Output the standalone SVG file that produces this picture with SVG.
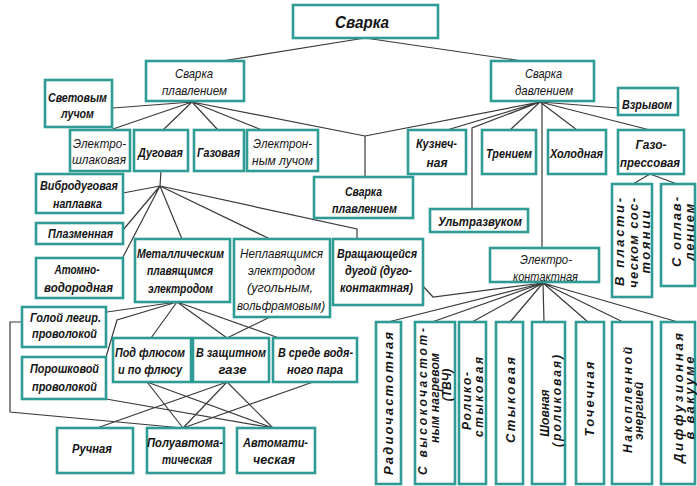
<svg xmlns="http://www.w3.org/2000/svg" width="697" height="486" viewBox="0 0 697 486">
<style>
.box{fill:#fff;stroke:#2e9c94;stroke-width:2.6}
.t{font-family:"Liberation Sans",Arial,sans-serif;font-style:italic;font-weight:bold;font-size:12px;text-anchor:middle;fill:#151515}
.h{font-size:13px}
.n{font-weight:normal}
.v{font-size:13px}
.c{stroke:#3a3a3a;stroke-width:1.2;fill:none}
</style>
<rect width="697" height="486" fill="#fff"/>
<g id="connectors" class="c">
<path d="M365,38L222,61M365,38L522,61"/>
<path d="M192,102L113,108M192,102L110,130M192,102L163,130M192,102L218,130M192,102L262,130M192,102L365,136"/>
<path d="M540,102L365,136M540,102L447,130M540,102L472,128L472,209M540,102L510,130M542,102L542,248M540,102L577,130M540,102L650,130M540,102L618,108"/>
<path d="M365,136L365,177"/>
<path d="M161,171L160,186M160,186L123,193M160,186L123,230M160,186L123,257M160,186L182,239M160,186L270,239M160,186L357,229L357,239"/>
<path d="M422,285L433,297L543,283"/>
<path d="M543,283L388,322M543,283L432,322M543,283L472,322M543,283L510,322M543,283L544,322M543,283L588,322M543,283L623,322M543,283L678,322"/>
<path d="M650,174L633,184M650,174L677,184"/>
<path d="M177,302L107,312M177,302L117,320L106,357M177,302L151,338M177,302L227,338M177,302L279,338M270,317L227,338"/>
<path d="M147,382L183,428M147,382L273,428M227,382L97,428M227,382L183,428M227,382L273,428M313,382L183,428M106,399L273,428M22,322L10,322L10,412L183,428"/>
</g>
<g id="svarka"><rect class="box" x="293" y="5" width="145" height="33"/><text class="t" x="362" y="28" style="font-size:17px" textLength="54" lengthAdjust="spacingAndGlyphs">Сварка</text></g>
<g id="plavleniem"><rect class="box" x="146" y="61" width="98" height="40"/><text class="t h n" x="194" y="78" textLength="38" lengthAdjust="spacingAndGlyphs">Сварка</text><text class="t h n" x="194.5" y="95" textLength="65" lengthAdjust="spacingAndGlyphs">плавлением</text></g>
<g id="davleniem"><rect class="box" x="491" y="61" width="103" height="40"/><text class="t h n" x="543.5" y="78" textLength="37" lengthAdjust="spacingAndGlyphs">Сварка</text><text class="t h n" x="544" y="95" textLength="58" lengthAdjust="spacingAndGlyphs">давлением</text></g>
<g id="vzryvom"><rect class="box" x="618" y="88" width="60" height="27"/><text class="t h" x="647" y="109" textLength="50" lengthAdjust="spacingAndGlyphs">Взрывом</text></g>
<g id="svetovym"><rect class="box" x="45" y="80" width="67" height="47"/><text class="t h" x="77.5" y="102" textLength="59" lengthAdjust="spacingAndGlyphs">Световым</text><text class="t h" x="77.5" y="118" textLength="33" lengthAdjust="spacingAndGlyphs">лучом</text></g>
<g id="elektroshlak"><rect class="box" x="70" y="130" width="60" height="41"/><text class="t h n" x="99.5" y="148" textLength="53" lengthAdjust="spacingAndGlyphs">Электро-</text><text class="t h n" x="99" y="164" textLength="54" lengthAdjust="spacingAndGlyphs">шлаковая</text></g>
<g id="dugovaya"><rect class="box" x="134" y="130" width="54" height="41"/><text class="t h" x="160.5" y="157" textLength="45" lengthAdjust="spacingAndGlyphs">Дуговая</text></g>
<g id="gazovaya"><rect class="box" x="194" y="130" width="50" height="41"/><text class="t h" x="218.5" y="157" textLength="43" lengthAdjust="spacingAndGlyphs">Газовая</text></g>
<g id="elektronnym"><rect class="box" x="247" y="130" width="71" height="41"/><text class="t h n" x="282.5" y="148" textLength="59" lengthAdjust="spacingAndGlyphs">Электрон-</text><text class="t h n" x="282.5" y="165" textLength="61" lengthAdjust="spacingAndGlyphs">ным лучом</text></g>
<g id="kuznech"><rect class="box" x="408" y="130" width="58" height="44"/><text class="t h" x="436.5" y="148" textLength="41" lengthAdjust="spacingAndGlyphs">Кузнеч-</text><text class="t h" x="437" y="167" textLength="21" lengthAdjust="spacingAndGlyphs">ная</text></g>
<g id="treniem"><rect class="box" x="482" y="130" width="54" height="44"/><text class="t h" x="509" y="158" textLength="46" lengthAdjust="spacingAndGlyphs">Трением</text></g>
<g id="holodnaya"><rect class="box" x="548" y="130" width="58" height="44"/><text class="t h" x="576.5" y="158" textLength="53" lengthAdjust="spacingAndGlyphs">Холодная</text></g>
<g id="gazopress"><rect class="box" x="618" y="130" width="66" height="44"/><text class="t h" x="651" y="149" textLength="31" lengthAdjust="spacingAndGlyphs">Газо-</text><text class="t h" x="650" y="167" textLength="60" lengthAdjust="spacingAndGlyphs">прессовая</text></g>
<g id="plavleniem2"><rect class="box" x="314" y="177" width="99" height="41"/><text class="t h" x="363.5" y="196" textLength="37" lengthAdjust="spacingAndGlyphs">Сварка</text><text class="t h" x="364.5" y="213" textLength="65" lengthAdjust="spacingAndGlyphs">плавлением</text></g>
<g id="ultrazvuk"><rect class="box" x="430" y="209" width="98" height="23"/><text class="t h" x="480" y="226" textLength="84" lengthAdjust="spacingAndGlyphs">Ультразвуком</text></g>
<g id="elektrokontakt"><rect class="box" x="490" y="248" width="109" height="34"/><text class="t h n" x="546" y="264" textLength="52" lengthAdjust="spacingAndGlyphs">Электро-</text><text class="t h n" x="545.5" y="281" textLength="65" lengthAdjust="spacingAndGlyphs">контактная</text></g>
<g id="vplast"><rect class="box" x="612" y="184" width="40" height="113"/>
<text class="t v" transform="translate(623.5,242) rotate(-90)" textLength="88" lengthAdjust="spacing">В пласти-</text>
<text class="t v" transform="translate(637.5,243) rotate(-90)" textLength="90" lengthAdjust="spacing">ческом сос-</text>
<text class="t v" transform="translate(649.5,242) rotate(-90)" textLength="63" lengthAdjust="spacing">тоянии</text></g>
<g id="soplav"><rect class="box" x="661" y="184" width="34" height="102"/>
<text class="t v" transform="translate(680.5,232) rotate(-90)" textLength="70" lengthAdjust="spacing">С оплав-</text>
<text class="t v" transform="translate(694,232) rotate(-90)" textLength="57" lengthAdjust="spacing">лением</text></g>
<g id="vibro"><rect class="box" x="36" y="174" width="87" height="39"/><text class="t h" x="79" y="190" textLength="78" lengthAdjust="spacingAndGlyphs">Вибродуговая</text><text class="t h" x="77.5" y="208" textLength="49" lengthAdjust="spacingAndGlyphs">наплавка</text></g>
<g id="plazm"><rect class="box" x="36" y="223" width="87" height="21"/><text class="t h" x="80.5" y="238" textLength="65" lengthAdjust="spacingAndGlyphs">Плазменная</text></g>
<g id="atomno"><rect class="box" x="36" y="258" width="87" height="40"/><text class="t h" x="77" y="274" textLength="45" lengthAdjust="spacingAndGlyphs">Атомно-</text><text class="t h" x="78.5" y="292" textLength="69" lengthAdjust="spacingAndGlyphs">водородная</text></g>
<g id="metall"><rect class="box" x="135" y="239" width="95" height="63"/><text class="t h" x="180.5" y="258" textLength="87" lengthAdjust="spacingAndGlyphs">Металлическим</text><text class="t h" x="180" y="275" textLength="66" lengthAdjust="spacingAndGlyphs">плавящимся</text><text class="t h" x="180.5" y="293" textLength="65" lengthAdjust="spacingAndGlyphs">электродом</text></g>
<g id="neplav"><rect class="box" x="234" y="239" width="96" height="78"/><text class="t h n" x="281.5" y="258" textLength="83" lengthAdjust="spacingAndGlyphs">Неплавящимся</text><text class="t h n" x="281.5" y="275" textLength="67" lengthAdjust="spacingAndGlyphs">электродом</text><text class="t h n" x="280" y="292" textLength="66" lengthAdjust="spacingAndGlyphs">(угольным,</text><text class="t h n" x="281" y="310" textLength="88" lengthAdjust="spacingAndGlyphs">вольфрамовым)</text></g>
<g id="vrash"><rect class="box" x="333" y="239" width="90" height="66"/><text class="t h" x="377" y="258" textLength="80" lengthAdjust="spacingAndGlyphs">Вращающейся</text><text class="t h" x="378.5" y="275" textLength="67" lengthAdjust="spacingAndGlyphs">дугой (дуго-</text><text class="t h" x="376.5" y="292" textLength="73" lengthAdjust="spacingAndGlyphs">контактная)</text></g>
<g id="goloy"><rect class="box" x="22" y="307" width="84" height="40"/><text class="t h" x="65.5" y="322" textLength="71" lengthAdjust="spacingAndGlyphs">Голой легир.</text><text class="t h" x="64.5" y="338" textLength="65" lengthAdjust="spacingAndGlyphs">проволокой</text></g>
<g id="poroshk"><rect class="box" x="22" y="357" width="84" height="42"/><text class="t h" x="64.5" y="373" textLength="69" lengthAdjust="spacingAndGlyphs">Порошковой</text><text class="t h" x="64.5" y="391" textLength="65" lengthAdjust="spacingAndGlyphs">проволокой</text></g>
<g id="podflyus"><rect class="box" x="113" y="338" width="78" height="44"/><text class="t h" x="150" y="357" textLength="70" lengthAdjust="spacingAndGlyphs">Под флюсом</text><text class="t h" x="150" y="374" textLength="64" lengthAdjust="spacingAndGlyphs">и по флюсу</text></g>
<g id="vzashch"><rect class="box" x="193" y="338" width="76" height="44"/><text class="t h" x="231" y="357" textLength="70" lengthAdjust="spacingAndGlyphs">В защитном</text><text class="t h" x="232.5" y="374" textLength="28" lengthAdjust="spacingAndGlyphs">газе</text></g>
<g id="vsrede"><rect class="box" x="273" y="338" width="84" height="44"/><text class="t h" x="315.5" y="357" textLength="75" lengthAdjust="spacingAndGlyphs">В среде водя-</text><text class="t h" x="315" y="374" textLength="56" lengthAdjust="spacingAndGlyphs">ного пара</text></g>
<g id="ruchnaya"><rect class="box" x="57" y="428" width="76" height="45"/><text class="t h" x="92" y="453" textLength="40" lengthAdjust="spacingAndGlyphs">Ручная</text></g>
<g id="poluavt"><rect class="box" x="147" y="428" width="77" height="45"/><text class="t h" x="185" y="447" textLength="76" lengthAdjust="spacingAndGlyphs">Полуавтома-</text><text class="t h" x="187" y="464" textLength="50" lengthAdjust="spacingAndGlyphs">тическая</text></g>
<g id="avtomat"><rect class="box" x="237" y="428" width="78" height="45"/><text class="t h" x="275.5" y="447" textLength="65" lengthAdjust="spacingAndGlyphs">Автомати-</text><text class="t h" x="274" y="464" textLength="42" lengthAdjust="spacingAndGlyphs">ческая</text></g>
<g id="radio"><rect class="box" x="376" y="322" width="25" height="162"/>
<text class="t v" transform="translate(392.5,403.5) rotate(-90)" textLength="143" lengthAdjust="spacing">Радиочастотная</text></g>
<g id="tvch"><rect class="box" x="415" y="322" width="40" height="162"/>
<text class="t" transform="translate(426.5,401.5) rotate(-90)" textLength="147" lengthAdjust="spacing">С высокочастот-</text>
<text class="t" transform="translate(439,398) rotate(-90)" textLength="90" lengthAdjust="spacing">ным нагревом</text>
<text class="t" transform="translate(450.5,385) rotate(-90)">(ТВЧ)</text></g>
<g id="roliko"><rect class="box" x="459" y="322" width="27" height="162"/>
<text class="t" transform="translate(471,401) rotate(-90)" textLength="58" lengthAdjust="spacing">Ролико-</text>
<text class="t" transform="translate(482.5,397) rotate(-90)" textLength="80" lengthAdjust="spacing">стыковая</text></g>
<g id="stykovaya"><rect class="box" x="496" y="322" width="27" height="162"/>
<text class="t v" transform="translate(514.5,400) rotate(-90)" textLength="86" lengthAdjust="spacing">Стыковая</text></g>
<g id="shovnaya"><rect class="box" x="532" y="322" width="33" height="162"/>
<text class="t" transform="translate(549,413) rotate(-90)">Шовная</text>
<text class="t" transform="translate(561,401) rotate(-90)" textLength="92" lengthAdjust="spacing">(роликовая)</text></g>
<g id="tochechnaya"><rect class="box" x="576" y="322" width="28" height="162"/>
<text class="t v" transform="translate(593.5,399) rotate(-90)" textLength="75" lengthAdjust="spacing">Точечная</text></g>
<g id="nakoplen"><rect class="box" x="612" y="322" width="40" height="162"/>
<text class="t" transform="translate(632,400) rotate(-90)" textLength="106" lengthAdjust="spacing">Накопленной</text>
<text class="t" transform="translate(643,411) rotate(-90)" textLength="58" lengthAdjust="spacing">энергией</text></g>
<g id="diffuz"><rect class="box" x="661" y="322" width="34" height="162"/>
<text class="t v" transform="translate(682.5,398) rotate(-90)" textLength="130" lengthAdjust="spacing">Диффузионная</text>
<text class="t v" transform="translate(694,398) rotate(-90)" textLength="83" lengthAdjust="spacing">в вакууме</text></g>
</svg>
